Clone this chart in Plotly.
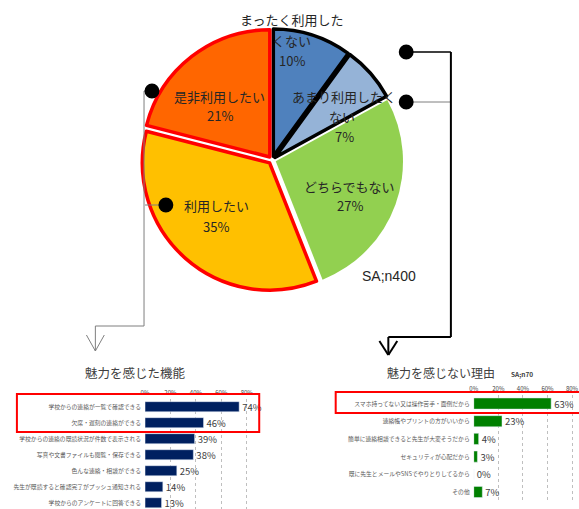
import plotly.graph_objects as go

W, H = 579, 509


def px(x):
    return x / W


def py(y):
    return 1 - y / H


# ---------------- data ----------------
pie_labels = ["まったく利用したくない", "あまり利用したくない", "どちらでもない", "利用したい", "是非利用したい"]
pie_values = [10, 7, 27, 35, 21]
pie_colors = ["#4F81BD", "#95B3D7", "#92D050", "#FFC000", "#FF6600"]

feat_labels = [
    "学校からの連絡が一覧で確認できる",
    "欠席・遅刻の連絡ができる",
    "学校からの連絡の既読状況が件数で表示される",
    "写真や文書ファイルも閲覧・保存できる",
    "色んな連絡・相談ができる",
    "先生が既読すると確認完了がプッシュ通知される",
    "学校からのアンケートに回答できる",
]
feat_values = [74, 46, 39, 38, 25, 14, 13]

reason_labels = [
    "スマホ持ってない又は操作苦手・面倒だから",
    "連絡帳やプリントの方がいいから",
    "簡単に連絡相談できると先生が大変そうだから",
    "セキュリティが心配だから",
    "既に先生とメールやSNSでやりとりしてるから",
    "その他",
]
reason_values = [63, 23, 4, 3, 0, 7]

pct_ticks = [0, 20, 40, 60, 80]

JP = "Noto Sans CJK JP"

fig = go.Figure()

# ---------------- pie ----------------
fig.add_trace(go.Pie(
    labels=pie_labels, values=pie_values, sort=False,
    direction="clockwise", rotation=0,
    marker=dict(colors=pie_colors,
                line=dict(color=["#000000", "#000000", "#FFFFFF", "#FF0000", "#FF0000"],
                          width=[3.5, 3.5, 0, 3.5, 3.5])),
    pull=[0.03, 0.03, 0.03, 0.03, 0.03],
    textinfo="none", hoverinfo="label+percent",
    domain=dict(x=[px(138), px(402)], y=[py(292), py(28)]),
    showlegend=False,
))

# ---------------- bars ----------------
fig.add_trace(go.Bar(
    x=feat_values, y=feat_labels, orientation="h",
    marker=dict(color="#002060"),
    text=[f"{v}%" for v in feat_values], textposition="outside",
    textfont=dict(size=9.5, color="#404040", family=JP),
    constraintext="none",
    cliponaxis=False, xaxis="x", yaxis="y", showlegend=False,
))
fig.add_trace(go.Bar(
    x=reason_values, y=reason_labels, orientation="h",
    marker=dict(color="#008000"),
    text=[f"{v}%" for v in reason_values], textposition="outside",
    textfont=dict(size=9.5, color="#404040", family=JP),
    constraintext="none",
    cliponaxis=False, xaxis="x2", yaxis="y2", showlegend=False,
))

axis_common = dict(
    side="top", tickvals=pct_ticks, ticktext=[f"{t}%" for t in pct_ticks],
    tickfont=dict(size=6, color="#404040", family=JP),
    showgrid=True, gridcolor="#BFBFBF", griddash="dot", gridwidth=1,
    zeroline=False, showline=False, ticks="", fixedrange=True,
    ticklabelstandoff=2,
)
yaxis_common = dict(
    tickfont=dict(size=5.8, color="#595959", family=JP),
    showgrid=False, zeroline=False, showline=False, ticks="", fixedrange=True,
    ticklabelstandoff=3,
)

fig.update_layout(
    width=W, height=H,
    margin=dict(l=0, r=0, t=0, b=0),
    paper_bgcolor="white", plot_bgcolor="rgba(0,0,0,0)",
    bargap=0.37,
    font=dict(family=JP),
    xaxis=dict(domain=[px(142), px(252)], range=[0, 110 / 1.281], anchor="y", **axis_common),
    yaxis=dict(domain=[0, py(398.7)], range=[6.39, -0.5], anchor="x", **yaxis_common),
    xaxis2=dict(domain=[px(473), 1], range=[0, (579 - 473) / 1.2375], anchor="y2", **axis_common),
    yaxis2=dict(domain=[py(500.8), py(394.7)], range=[5.5, -0.5], anchor="x2", **yaxis_common),
)

# ---------------- annotations ----------------
ann = []


def text(x, y, s, size=13, color="#262626", family=JP, xanchor="center"):
    ann.append(dict(x=px(x), y=py(y), xref="paper", yref="paper", text=s,
                    showarrow=False, xanchor=xanchor, yanchor="middle",
                    font=dict(size=size, color=color, family=family)))


# pie labels (lines wrapped as in the reference)
pie_lines = [
    (["まったく利用した", "くない"], [(290, 20), (290, 40)], (290, 60)),
    (["あまり利用したく", "ない"], [(342, 96), (340, 116)], (343, 136)),
    (["どちらでもない"], [(348, 187)], (348, 206)),
    (["利用したい"], [(214, 206)], (213, 226)),
    (["是非利用したい"], [(217, 96)], (218, 115)),
]
for (lines, pos, vpos), val in zip(pie_lines, pie_values):
    for ln, (x, y) in zip(lines, pos):
        text(x, y, ln)
    text(vpos[0], vpos[1], f"{val}%")

text(388, 276, "SA;n400", size=14, family="Liberation Sans")
text(132, 372, "魅力を感じた機能", size=12.5, color="#404040")
text(440, 372, "魅力を感じない理由", size=12, color="#404040")
text(522, 374, "<b>SA;n70</b>", size=6.5, color="#404040")

# ---------------- shapes ----------------
shapes = []


def line(x0, y0, x1, y1, color="#7F7F7F", width=1):
    shapes.append(dict(type="line", xref="paper", yref="paper",
                       x0=px(x0), y0=py(y0), x1=px(x1), y1=py(y1),
                       line=dict(color=color, width=width)))


def dot(x, y, r=7.5):
    shapes.append(dict(type="circle", xref="paper", yref="paper",
                       x0=px(x - r), x1=px(x + r), y0=py(y + r), y1=py(y - r),
                       fillcolor="black", line=dict(color="black", width=0)))


def rect(x0, y0, x1, y1):
    shapes.append(dict(type="rect", xref="paper", yref="paper",
                       x0=px(x0), x1=px(x1), y0=py(y1), y1=py(y0),
                       line=dict(color="#FF0000", width=2), fillcolor="rgba(0,0,0,0)"))


# left connector (grey)
line(141, 91, 149, 91)
line(141, 91, 141, 326)
line(142, 205, 162, 205)
line(92, 326, 141, 326)
line(92, 326, 92, 351)
line(83, 335, 92, 351)
line(101, 335, 92, 351)
dot(149, 91)
dot(163, 205)

# right connector (black)
line(405, 52, 450, 52, color="#000000", width=1.5)
line(405, 102, 450, 102, color="#7F7F7F", width=1)
line(450, 52, 450, 337, color="#000000", width=2)
line(387, 337, 450, 337, color="#000000", width=2)
line(387, 337, 387, 355, color="#000000", width=2)
line(378, 341, 387, 355, color="#000000", width=2)
line(396, 341, 387, 355, color="#000000", width=2)
dot(405, 52)
dot(405, 102)

# highlight boxes
rect(13, 394, 257, 432)
rect(334, 392, 582, 413)

fig.update_layout(annotations=ann, shapes=shapes)

fig.write_html("out.html")
